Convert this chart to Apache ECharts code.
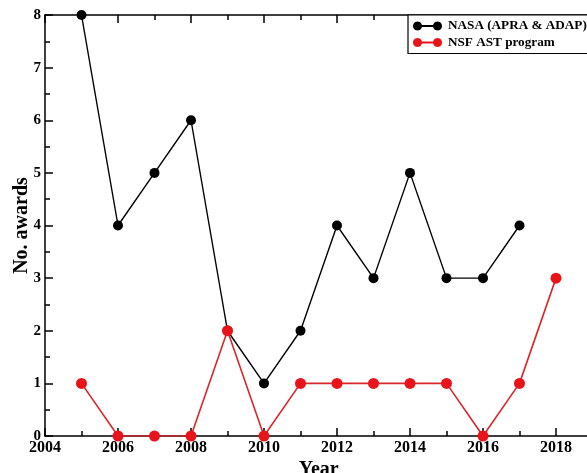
<!DOCTYPE html>
<html>
<head>
<meta charset="utf-8">
<script src="https://cdn.jsdelivr.net/npm/echarts@6/dist/echarts.min.js"></script>
<style>html,body{margin:0;padding:0;background:#fff}#c{width:587px;height:473px}</style>
</head>
<body>
<div id="c"></div>
<script>
const nasaYears = [2005, 2006, 2007, 2008, 2009, 2010, 2011, 2012, 2013, 2014, 2015, 2016, 2017];
const nasaAwards = [8, 4, 5, 6, 2, 1, 2, 4, 3, 5, 3, 3, 4];
const nsfYears = [2005, 2006, 2007, 2008, 2009, 2010, 2011, 2012, 2013, 2014, 2015, 2016, 2017, 2018];
const nsfAwards = [1, 0, 0, 0, 2, 0, 1, 1, 1, 1, 1, 0, 1, 3];
const seriesNames = ['NASA (APRA & ADAP)', 'NSF AST program'];
const xTitle = 'Year';
const yTitle = 'No. awards';

const FONT = '"Liberation Serif", "DejaVu Serif", serif';

// legend glyph: dot — line — dot (same orientation polygons)
function circlePath(cx, cy, r, n) {
  let s = '';
  for (let k = 0; k < n; k++) {
    const a = (k / n) * Math.PI * 2;
    s += (k === 0 ? 'M' : 'L') + (cx + r * Math.cos(a)).toFixed(2) + ',' + (cy + r * Math.sin(a)).toFixed(2) + ' ';
  }
  return s + 'Z ';
}
const legendIcon = 'path://' + circlePath(4.5, 4.5, 4.5, 24) +
  'M4.5,3.5 L24.5,3.5 L24.5,5.5 L4.5,5.5 Z ' + circlePath(24.5, 4.5, 4.5, 24);

const chart = echarts.init(document.getElementById('c'), null, {renderer: 'canvas'});
const axisBase = {
  type: 'value',
  nameMoveOverlap: false,
  axisLine: {show: true, onZero: false, lineStyle: {color: '#000', width: 1.5}},
  axisTick: {show: true, inside: true, length: 8, lineStyle: {color: '#000', width: 1.5}},
  minorTick: {show: true, splitNumber: 2, length: 5, lineStyle: {color: '#000', width: 1.5}},
  splitLine: {show: false},
  minorSplitLine: {show: false}
};
chart.setOption({
  animation: false,
  backgroundColor: '#fff',
  grid: {left: 45, right: -5.5, top: 15, bottom: 37, containLabel: false, outerBoundsMode: 'none'},
  legend: {
    left: 408, top: 15, orient: 'vertical',
    data: seriesNames,
    icon: legendIcon,
    itemWidth: 29, itemHeight: 9, itemGap: 2.5,
    padding: [4, 14, 4, 5],
    borderColor: '#000', borderWidth: 1.2, borderRadius: 0,
    backgroundColor: '#fff',
    textStyle: {fontFamily: FONT, fontWeight: 'bold', fontSize: 13.2, lineHeight: 14, color: '#000', padding: [0, 0, 0, 1]},
    itemStyle: {borderWidth: 0}
  },
  xAxis: [
    Object.assign({}, axisBase, {
      min: 2004, max: 2019, interval: 2, position: 'bottom',
      name: xTitle, nameLocation: 'middle', nameGap: 24,
      nameTextStyle: {fontFamily: FONT, fontWeight: 'bold', fontSize: 20, color: '#000', verticalAlign: 'top'},
      axisLabel: {fontFamily: FONT, fontWeight: 'bold', fontSize: 16, color: '#000', margin: 4,
        formatter: v => (v % 2 === 0 ? String(v) : '')}
    }),
    Object.assign({}, axisBase, {
      min: 2004, max: 2019, interval: 2, position: 'top',
      axisLabel: {show: false}
    })
  ],
  yAxis: [
    Object.assign({}, axisBase, {
      min: 0, max: 8, interval: 1, position: 'left',
      name: yTitle, nameLocation: 'middle', nameGap: 13, nameRotate: 90,
      nameTextStyle: {fontFamily: FONT, fontWeight: 'bold', fontSize: 20, color: '#000'},
      axisLabel: {fontFamily: FONT, fontWeight: 'bold', fontSize: 15, color: '#000', margin: 4}
    })
  ],
  series: [
    {
      name: seriesNames[0], type: 'line',
      data: nasaYears.map((y, i) => [y, nasaAwards[i]]),
      symbol: 'circle', symbolSize: 10,
      itemStyle: {color: '#000'},
      lineStyle: {color: '#000', width: 1.4},
      z: 3
    },
    {
      name: seriesNames[1], type: 'line',
      data: nsfYears.map((y, i) => [y, nsfAwards[i]]),
      symbol: 'circle', symbolSize: 11,
      itemStyle: {color: '#e8141a'},
      lineStyle: {color: '#d8262a', width: 1.6},
      z: 4
    }
  ]
});
</script>
</body>
</html>
